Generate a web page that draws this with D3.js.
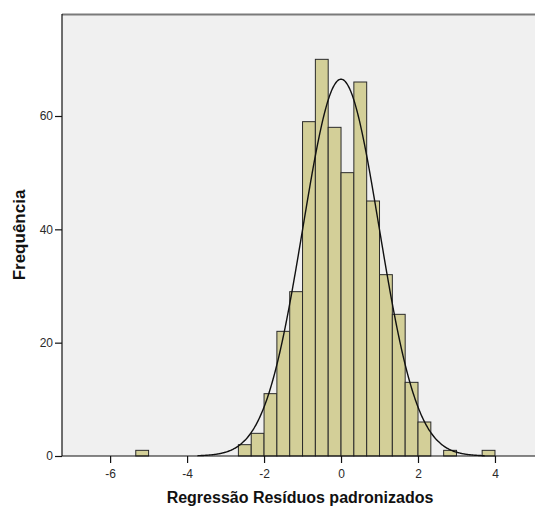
<!DOCTYPE html>
<html>
<head>
<meta charset="utf-8">
<script src="https://cdn.jsdelivr.net/npm/d3@7"></script>
<style>
  body { margin: 0; background: #fff; }
  svg { display: block; font-family: "Liberation Sans", Arial, sans-serif; }
</style>
</head>
<body>
<div id="chart"></div>
<script>
// histogram bins (left edge, count)
var binStart = [-16/3, -8/3, -7/3, -2, -5/3, -4/3, -1, -2/3, -1/3, 0, 1/3, 2/3, 1, 4/3, 5/3, 2, 8/3, 11/3];
var binCount = [1, 2, 4, 11, 22, 29, 59, 70, 58, 50, 66, 45, 32, 25, 13, 6, 1, 1];
var binWidth = 1/3;

// fitted normal curve parameters
var curveMean = 0;
var curveSd = 0.99;
var curveN = 495;

var xTicks = [-6, -4, -2, 0, 2, 4];
var yTicks = [0, 20, 40, 60];

var width = 535, height = 507;
var plotLeft = 62, plotTop = 14, plotBottom = 456;

var svg = d3.select("#chart").append("svg")
  .attr("width", width)
  .attr("height", height);

var x = d3.scaleLinear().domain([-7.25, 5.04]).range([plotLeft, width]);
var y = d3.scaleLinear().domain([0, 78]).range([plotBottom, plotTop]);

// plot background
svg.append("rect")
  .attr("x", plotLeft).attr("y", plotTop)
  .attr("width", width - plotLeft).attr("height", plotBottom - plotTop)
  .attr("fill", "#f0f0f0");

// top border
svg.append("line")
  .attr("x1", plotLeft).attr("x2", width)
  .attr("y1", plotTop + 0.5).attr("y2", plotTop + 0.5)
  .attr("stroke", "#7a7a7a").attr("stroke-width", 2);

var bins = binStart.map((s, i) => ({ x0: s, x1: s + binWidth, n: binCount[i] }));

svg.append("g").selectAll("rect")
  .data(bins)
  .enter().append("rect")
  .attr("x", d => x(d.x0))
  .attr("y", d => y(d.n))
  .attr("width", d => x(d.x1) - x(d.x0))
  .attr("height", d => y(0) - y(d.n))
  .attr("fill", "#d3cf98")
  .attr("stroke", "#2a2a2a")
  .attr("stroke-width", 1);

// normal curve
var pts = d3.range(-7.25, 5.05, 0.02).map(v => {
  var z = (v - curveMean) / curveSd;
  return [v, curveN * binWidth * Math.exp(-0.5 * z * z) / (curveSd * Math.sqrt(2 * Math.PI))];
});

svg.append("path")
  .datum(pts.filter(p => y(p[1]) < plotBottom - 0.3))
  .attr("fill", "none")
  .attr("stroke", "#111")
  .attr("stroke-width", 1.4)
  .attr("d", d3.line().x(d => x(d[0])).y(d => y(d[1])).curve(d3.curveBasis));

// axes
var xAxis = svg.append("g")
  .attr("transform", `translate(0,${plotBottom})`)
  .call(d3.axisBottom(x).tickValues(xTicks).tickSize(7).tickPadding(6).tickFormat(d3.format("d")));

var yAxis = svg.append("g")
  .attr("transform", `translate(${plotLeft},0)`)
  .call(d3.axisLeft(y).tickValues(yTicks).tickSize(7).tickPadding(2));

[xAxis, yAxis].forEach(a => {
  a.select(".domain").attr("stroke", "#111").attr("stroke-width", 1.2);
  a.selectAll(".tick line").attr("stroke", "#111").attr("stroke-width", 1.2);
  a.selectAll(".tick text")
    .attr("fill", "#2a2a2a")
    .style("font-size", "12px")
    .style("font-family", "'Liberation Sans', Arial, sans-serif");
});
yAxis.select(".domain").attr("d", `M0,${plotTop}V${plotBottom}`);
xAxis.select(".domain").attr("d", `M${plotLeft},0H${width}`);
xAxis.selectAll(".tick text").text(d => d < 0 ? "-" + Math.abs(d) : d);

// titles
svg.append("text")
  .attr("x", 300).attr("y", 503)
  .attr("text-anchor", "middle")
  .style("font-size", "16px")
  .style("font-weight", "bold")
  .attr("fill", "#111")
  .text("Regressão Resíduos padronizados");

svg.append("text")
  .attr("transform", "translate(25,235) rotate(-90)")
  .attr("text-anchor", "middle")
  .style("font-size", "17px")
  .style("font-weight", "bold")
  .attr("fill", "#111")
  .text("Frequência");
</script>
</body>
</html>
